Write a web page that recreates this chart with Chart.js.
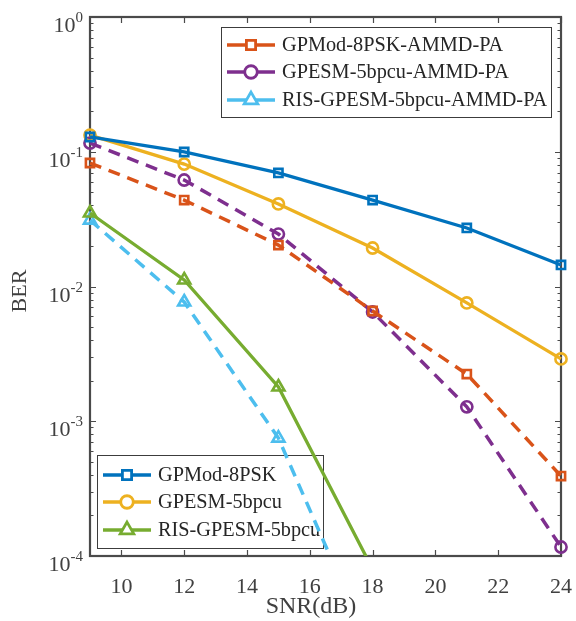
<!DOCTYPE html>
<html>
<head>
<meta charset="utf-8">
<script src="https://cdn.jsdelivr.net/npm/chart.js@4.4.1/dist/chart.umd.min.js"></script>
<style>
  html, body { margin: 0; padding: 0; background: #ffffff; }
  canvas { display: block; }
</style>
</head>
<body>
<canvas id="ber" width="576" height="621"></canvas>
<script>
// SNR sweep (dB)
const snr = [9, 12, 15, 18, 21, 24];

// Bit error rates per scheme
const berGPMod8PSK        = [0.1287, 0.0996, 0.0696, 0.0438, 0.0272, 0.01445];
const berGPESM5bpcu       = [0.133, 0.081, 0.0410, 0.0193, 0.00755, 0.0029];
const berRISGPESM5bpcu    = [0.0351, 0.01117, 0.001795, 0.00008];
const berGPMod8PSKAMMD    = [0.0825, 0.0438, 0.0203, 0.00658, 0.00224, 0.000392];
const berGPESM5bpcuAMMD   = [0.116, 0.0617, 0.0245, 0.00647, 0.00128, 0.0001166];
const berRISGPESM5bpcuAMMD = [0.0311, 0.00767, 0.00075, 0.000019];

// Axis ticks
const xTicks = [10, 12, 14, 16, 18, 20, 22, 24];
const yDecades = [0, -1, -2, -3, -4];

const C = {
  blue: '#0072BD', orange: '#D95319', yellow: '#EDB120',
  purple: '#7E2F8E', green: '#77AC30', cyan: '#4DBEEE'
};
const SERIF = '"Liberation Serif", "Times New Roman", serif';
const DASH = [12, 8];

function pts(ys) { return ys.map((y, i) => ({ x: snr[i], y })); }

function series(label, ys, color, style, dashed, radius) {
  return {
    label, data: pts(ys),
    borderColor: color, backgroundColor: color,
    borderWidth: dashed ? 3.5 : 3.3, borderDash: dashed ? DASH : [],
    pointStyle: style, pointRadius: radius, pointHoverRadius: radius,
    pointBorderWidth: 2.6, pointBorderColor: color,
    pointBackgroundColor: 'rgba(0,0,0,0)',
    tension: 0, fill: false,
    clip: { left: 14, right: 14, top: 0, bottom: 0 }
  };
}

const datasets = [
  series('GPMod-8PSK', berGPMod8PSK, C.blue, 'rect', false, 5.8),
  series('GPESM-5bpcu', berGPESM5bpcu, C.yellow, 'circle', false, 5.6),
  series('RIS-GPESM-5bpcu', berRISGPESM5bpcu, C.green, 'triangle', false, 7),
  series('GPMod-8PSK-AMMD-PA', berGPMod8PSKAMMD, C.orange, 'rect', true, 5.8),
  series('GPESM-5bpcu-AMMD-PA', berGPESM5bpcuAMMD, C.purple, 'circle', true, 5.6),
  series('RIS-GPESM-5bpcu-AMMD-PA', berRISGPESM5bpcuAMMD, C.cyan, 'triangle', true, 7)
];

// Axes sit underneath the curves: frame, inward ticks, labels, titles, legends
const decor = {
  id: 'decor',
  beforeDatasetsDraw(chart) {
    const ctx = chart.ctx;
    const a = chart.chartArea;
    const xs = chart.scales.x, ys = chart.scales.y;
    const axisColor = '#4a4a4a';
    const textColor = '#404040';

    ctx.save();
    // legends first, curves are drawn over them
    function legend(box, items, rowY) {
      ctx.fillStyle = '#ffffff';
      ctx.fillRect(box.x, box.y, box.w, box.h);
      ctx.strokeStyle = '#3c3c3c';
      ctx.lineWidth = 1;
      ctx.strokeRect(box.x + 0.5, box.y + 0.5, box.w, box.h);
      items.forEach((ds, i) => {
        const y = rowY[i];
        const x0 = box.x + 6, x1 = box.x + 54, xm = (x0 + x1) / 2;
        ctx.strokeStyle = ds.borderColor;
        ctx.lineWidth = 3.5;
        ctx.setLineDash([]);
        ctx.beginPath();
        ctx.moveTo(x0, y); ctx.lineTo(x1, y);
        ctx.stroke();
        ctx.fillStyle = '#ffffff';
        ctx.lineWidth = 2.8;
        Chart.helpers.drawPoint(ctx, {
          pointStyle: ds.pointStyle, radius: ds.pointRadius * 1.12, rotation: 0, borderWidth: 2.8
        }, xm, y);
        ctx.fillStyle = '#262626';
        ctx.font = '20.3px ' + SERIF;
        ctx.textAlign = 'left';
        ctx.textBaseline = 'middle';
        ctx.fillText(ds.label, box.x + 61, y + 1);
      });
      ctx.textBaseline = 'alphabetic';
    }
    const dsets = chart.data.datasets;
    legend({ x: 221, y: 27, w: 330, h: 90 }, [dsets[3], dsets[4], dsets[5]], [45, 72, 100]);
    legend({ x: 97, y: 455, w: 226, h: 93 }, [dsets[0], dsets[1], dsets[2]], [475, 502, 530]);

    // ticks
    ctx.strokeStyle = axisColor;
    ctx.lineWidth = 1.2;
    ctx.beginPath();
    xTicks.forEach(v => {
      const px = Math.round(xs.getPixelForValue(v)) + 0.5;
      ctx.moveTo(px, a.bottom); ctx.lineTo(px, a.bottom - 6);
      ctx.moveTo(px, a.top); ctx.lineTo(px, a.top + 6);
    });
    yDecades.forEach(d => {
      const py = Math.round(ys.getPixelForValue(Math.pow(10, d))) + 0.5;
      ctx.moveTo(a.left, py); ctx.lineTo(a.left + 6, py);
      ctx.moveTo(a.right, py); ctx.lineTo(a.right - 6, py);
      if (d > -4) {
        for (let m = 2; m <= 9; m++) {
          const pm = Math.round(ys.getPixelForValue(m * Math.pow(10, d - 1))) + 0.5;
          ctx.moveTo(a.left, pm); ctx.lineTo(a.left + 3.5, pm);
          ctx.moveTo(a.right, pm); ctx.lineTo(a.right - 3.5, pm);
        }
      }
    });
    ctx.stroke();

    // box
    ctx.lineWidth = 2.2;
    ctx.strokeStyle = axisColor;
    ctx.strokeRect(a.left, a.top, a.right - a.left, a.bottom - a.top);

    // x tick labels
    ctx.fillStyle = textColor;
    ctx.font = '22px ' + SERIF;
    ctx.textAlign = 'center';
    ctx.textBaseline = 'alphabetic';
    xTicks.forEach(v => {
      ctx.fillText(String(v), xs.getPixelForValue(v), a.bottom + 37);
    });

    // y tick labels: 10 with superscript exponent
    yDecades.forEach(d => {
      const py = ys.getPixelForValue(Math.pow(10, d));
      const exp = d === 0 ? '0' : '-' + String(-d);
      ctx.font = '15px ' + SERIF;
      const we = ctx.measureText(exp).width;
      ctx.font = '22px ' + SERIF;
      const wb = ctx.measureText('10').width;
      const right = a.left - 7;
      ctx.textAlign = 'left';
      ctx.font = '22px ' + SERIF;
      ctx.fillText('10', right - we - wb, py + 15);
      ctx.font = '15px ' + SERIF;
      ctx.fillText(exp, right - we, py + 5);
    });

    // axis titles
    ctx.font = '24px ' + SERIF;
    ctx.textAlign = 'center';
    ctx.fillText('SNR(dB)', 311, 613);
    ctx.save();
    ctx.translate(26, 291);
    ctx.rotate(-Math.PI / 2);
    ctx.font = '22px ' + SERIF;
    ctx.fillText('BER', 0, 0);
    ctx.restore();

    ctx.restore();
  }
};

new Chart(document.getElementById('ber'), {
  type: 'line',
  data: { datasets },
  options: {
    responsive: false,
    animation: false,
    devicePixelRatio: 1,
    layout: { padding: { left: 90, top: 17, right: 15, bottom: 65 } },
    plugins: { legend: { display: false }, tooltip: { enabled: false } },
    scales: {
      x: { type: 'linear', min: 9, max: 24, display: false },
      y: { type: 'logarithmic', min: 1e-4, max: 1, display: false }
    }
  },
  plugins: [decor]
});
</script>
</body>
</html>
